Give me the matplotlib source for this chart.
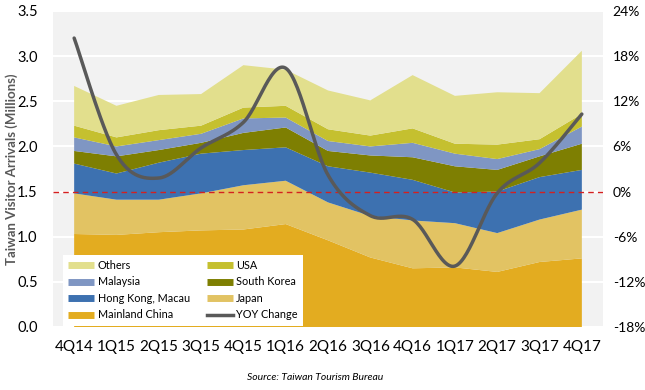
import numpy as np
import matplotlib
matplotlib.use("Agg")
import matplotlib.pyplot as plt
from matplotlib.lines import Line2D

plt.rcParams['font.family'] = ['Lato', 'DejaVu Sans']

quarters = ["4Q14", "1Q15", "2Q15", "3Q15", "4Q15", "1Q16", "2Q16",
            "3Q16", "4Q16", "1Q17", "2Q17", "3Q17", "4Q17"]

# cumulative tops (millions)
top_china = [1.03, 1.02, 1.05, 1.07, 1.08, 1.14, 0.96, 0.77, 0.65, 0.66, 0.61, 0.72, 0.76]
top_japan = [1.48, 1.41, 1.41, 1.48, 1.57, 1.62, 1.38, 1.23, 1.18, 1.15, 1.04, 1.19, 1.30]
top_hk    = [1.81, 1.70, 1.82, 1.92, 1.96, 1.99, 1.78, 1.71, 1.63, 1.49, 1.50, 1.66, 1.74]
top_korea = [1.95, 1.89, 1.96, 2.04, 2.15, 2.21, 1.95, 1.90, 1.88, 1.78, 1.74, 1.89, 2.03]
top_malay = [2.10, 2.00, 2.07, 2.14, 2.31, 2.32, 2.06, 2.00, 2.04, 1.92, 1.86, 1.97, 2.22]
top_usa   = [2.23, 2.10, 2.18, 2.23, 2.43, 2.45, 2.19, 2.12, 2.20, 2.03, 2.02, 2.08, 2.36]
top_other = [2.67, 2.45, 2.57, 2.58, 2.90, 2.85, 2.62, 2.51, 2.79, 2.56, 2.60, 2.59, 3.06]

yoy_change = [20.4, 4.9, 1.8, 5.8, 9.2, 16.4, 2.2, -3.2, -3.7, -9.9, -0.2, 3.8, 10.3]

tops = [top_china, top_japan, top_hk, top_korea, top_malay, top_usa, top_other]
names = ["Mainland China", "Japan", "Hong Kong, Macau", "South Korea",
         "Malaysia", "USA", "Others"]
colors = ["#E3AC20", "#E2C363", "#3D71B0", "#7E7F02", "#7F96C3", "#C5C02F", "#E2DF8D"]

series = []
prev = np.zeros(len(quarters))
for t in tops:
    t = np.array(t)
    series.append(t - prev)
    prev = t

x = np.arange(len(quarters))

fig = plt.figure(figsize=(6.45, 3.9), dpi=100)
ax = fig.add_axes([53/645, 1-327/390, 550/645, 316/390])
ax.set_facecolor("#F2F2F2")
ax.stackplot(x, *series, colors=colors, zorder=2)
ax.set_xlim(-0.5, 12.5)
ax.set_ylim(0, 3.5)
ax.set_yticks(np.arange(0, 3.51, 0.5))
ax.set_yticklabels([f"{v:.1f}" for v in np.arange(0, 3.51, 0.5)], fontsize=10.5)
ax.set_xticks(x)
ax.set_xticklabels(quarters, fontsize=11)
ax.tick_params(axis='x', length=0, pad=9)
ax.tick_params(axis='y', length=0, pad=11)
ax.grid(axis='y', color='white', lw=1.5, zorder=1)
ax.set_axisbelow(True)
for s in ax.spines.values():
    s.set_visible(False)
ax.set_ylabel("Taiwan Visitor Arrivals (Millions)", fontsize=9.5, fontweight='bold',
              color="#595959")
ax.yaxis.set_label_coords((18 - 53) / 550, 0.5)

ax2 = ax.twinx()
ax2.set_ylim(-18, 24)
ax2.set_yticks(np.arange(-18, 25, 6))
ax2.set_yticklabels([f"{v}%" for v in range(-18, 25, 6)], fontsize=10)
ax2.tick_params(length=0, pad=7)
for s in ax2.spines.values():
    s.set_visible(False)
ax2.axhline(0, color="#D42020", lw=1, ls=(0, (4, 3)), zorder=3)

# Excel-style smoothed line (cubic Bezier, Catmull-Rom control points)
yv = np.array(yoy_change, dtype=float)
xs, ys = [], []
n = len(x)
for i in range(n - 1):
    p0 = np.array([x[max(i-1, 0)], yv[max(i-1, 0)]])
    p1 = np.array([x[i], yv[i]])
    p2 = np.array([x[i+1], yv[i+1]])
    p3 = np.array([x[min(i+2, n-1)], yv[min(i+2, n-1)]])
    c1 = p1 + (p2 - p0) / 6
    c2 = p2 - (p3 - p1) / 6
    t = np.linspace(0, 1, 30)[:, None]
    pts = (1-t)**3*p1 + 3*(1-t)**2*t*c1 + 3*(1-t)*t**2*c2 + t**3*p2
    xs.extend(pts[:, 0]); ys.extend(pts[:, 1])
ax2.plot(xs, ys, color="#595959", lw=2.5, zorder=4, solid_capstyle='round')

handles = [Line2D([], [], color=colors[6], lw=5, solid_capstyle='butt'),
           Line2D([], [], color=colors[4], lw=5, solid_capstyle='butt'),
           Line2D([], [], color=colors[2], lw=5, solid_capstyle='butt'),
           Line2D([], [], color=colors[0], lw=5, solid_capstyle='butt'),
           Line2D([], [], color=colors[5], lw=5, solid_capstyle='butt'),
           Line2D([], [], color=colors[3], lw=5, solid_capstyle='butt'),
           Line2D([], [], color=colors[1], lw=5, solid_capstyle='butt'),
           Line2D([], [], color="#595959", lw=2.5)]
labels = ["Others", "Malaysia", "Hong Kong, Macau", "Mainland China",
          "USA", "South Korea", "Japan", "YOY Change"]
leg = ax2.legend(handles, labels, ncol=2, loc='lower left',
                 bbox_to_anchor=(0.018, 0.004), fontsize=7.8, frameon=True,
                 fancybox=False, edgecolor='none', facecolor='white', framealpha=1,
                 handlelength=2.4, handletextpad=0.3, columnspacing=1.6,
                 labelspacing=0.5, borderpad=0.5, borderaxespad=0)
leg.set_zorder(10)

fig.text(315/645, 1-378/390, "Source: Taiwan Tourism Bureau", ha='center', va='center',
         fontsize=7.5, style='italic')

fig.savefig("out.png", dpi=100)
